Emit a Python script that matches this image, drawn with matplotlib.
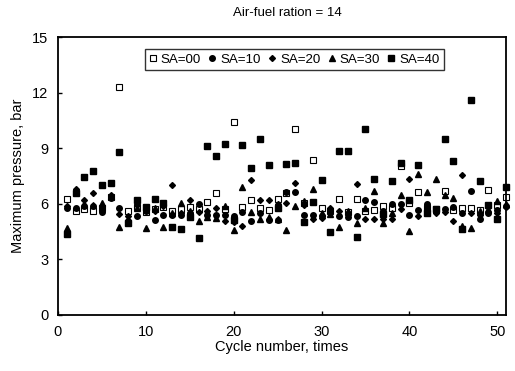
import numpy as np
import matplotlib
matplotlib.use("Agg")
import matplotlib.pyplot as plt

plt.rcParams['font.family'] = ['Liberation Sans', 'DejaVu Sans']

cycles = np.arange(1, 52)

sa00 = [6.25, 5.6, 5.7, 5.62, 5.8, 6.35, 12.3, 5.6, 5.85, 5.55,
        5.7, 5.81, 5.6, 5.72, 5.81, 5.7, 6.1, 6.6, 5.7, 10.4,
        5.82, 6.22, 5.8, 5.64, 6.25, 6.6, 10.04, 6.05, 8.38, 5.78,
        5.6, 6.25, 5.58, 6.26, 5.59, 5.68, 5.86, 5.8, 8.05, 6.03,
        6.63, 5.8, 5.7, 6.7, 5.68, 5.77, 5.77, 5.68, 6.76, 5.95, 6.36]
sa10 = [5.75, 5.8, 5.9, 5.88, 5.55, 6.3, 5.76, 5.1, 5.32, 5.6,
        5.15, 5.4, 5.4, 5.4, 5.5, 6.0, 5.4, 5.4, 5.4, 5.35,
        5.58, 5.1, 5.5, 5.13, 5.13, 6.65, 6.63, 5.4, 5.4, 5.32,
        5.59, 5.35, 5.3, 5.32, 6.22, 6.08, 5.6, 6.0, 5.97, 5.38,
        5.68, 5.98, 5.6, 5.7, 5.85, 5.5, 6.7, 5.17, 5.5, 5.68, 5.9]
sa20 = [5.9, 6.8, 6.2, 6.57, 5.75, 6.5, 5.43, 5.35, 5.95, 5.7,
        5.6, 5.9, 7.0, 5.5, 6.22, 5.55, 5.6, 5.8, 5.08, 5.0,
        4.8, 7.3, 6.18, 6.18, 6.0, 6.04, 7.12, 5.95, 5.2, 5.23,
        5.8, 5.6, 5.5, 7.05, 5.18, 5.18, 5.2, 5.18, 5.7, 7.33,
        5.33, 5.8, 5.5, 5.58, 5.1, 7.57, 5.5, 5.4, 5.95, 5.5, 5.85]
sa30 = [4.72, 6.7, 6.0, 5.95, 6.05, 6.4, 4.73, 5.2, 5.75, 4.72,
        5.75, 4.73, 5.5, 6.06, 5.6, 5.05, 5.3, 5.25, 5.86, 4.6,
        6.9, 5.58, 5.2, 5.3, 5.2, 4.6, 5.9, 6.13, 6.82, 5.5,
        5.45, 4.75, 5.6, 4.97, 5.77, 6.71, 4.99, 5.5, 6.48, 4.52,
        7.62, 6.65, 7.33, 6.48, 6.33, 4.78, 4.7, 5.6, 5.7, 6.15, 6.0]
sa40 = [4.38, 6.6, 7.45, 7.75, 7.0, 7.15, 8.8, 4.95, 6.2, 5.85,
        6.28, 6.03, 4.77, 4.63, 5.3, 4.15, 9.1, 8.6, 9.22, 5.15,
        9.19, 7.93, 9.5, 8.08, 5.8, 8.14, 8.2, 5.0, 6.1, 7.3,
        4.5, 8.83, 8.83, 4.2, 10.04, 7.33, 5.45, 7.25, 8.2, 6.2,
        8.12, 5.53, 5.72, 9.5, 8.29, 4.65, 11.58, 7.25, 5.95, 5.2, 6.93]

labels = ["SA=00", "SA=10", "SA=20", "SA=30", "SA=40"]

fig = plt.figure(figsize=(5.15, 3.71), dpi=100)
ax = fig.add_axes([0.1126, 0.151, 0.87, 0.749])

ax.plot(cycles, sa00, 's', ms=4.0, mfc='white', mec='black', mew=0.8, label=labels[0], clip_on=False)
ax.plot(cycles, sa10, 'o', ms=4.0, color='black', label=labels[1], clip_on=False)
ax.plot(cycles, sa20, 'D', ms=3.0, color='black', label=labels[2], clip_on=False)
ax.plot(cycles, sa30, '^', ms=4.1, color='black', label=labels[3], clip_on=False)
ax.plot(cycles, sa40, 's', ms=4.0, color='black', label=labels[4], clip_on=False)

ax.set_xlim(0, 51)
ax.set_ylim(0, 15)
ax.set_xticks([0, 10, 20, 30, 40, 50])
ax.set_yticks([0, 3, 6, 9, 12, 15])
ax.tick_params(direction='in', length=3, width=1, labelsize=10.5, pad=7)
for s in ax.spines.values():
    s.set_linewidth(1.3)

ax.set_xlabel("Cycle number, times", fontsize=10.5, labelpad=1)
ax.set_ylabel("Maximum pressure, bar", fontsize=10.5, labelpad=5)
fig.text(0.558, 0.965, "Air-fuel ration = 14", fontsize=9.5, ha='center', va='center')

leg = ax.legend(loc='upper center', bbox_to_anchor=(0.527, 0.965), ncol=5, fontsize=9.6,
                frameon=True, fancybox=False, edgecolor='black', handlelength=0.6,
                handletextpad=0.3, columnspacing=0.55, borderpad=0.3, borderaxespad=0.2)
leg.get_frame().set_linewidth(1.0)

fig.savefig("out.png", dpi=100)
